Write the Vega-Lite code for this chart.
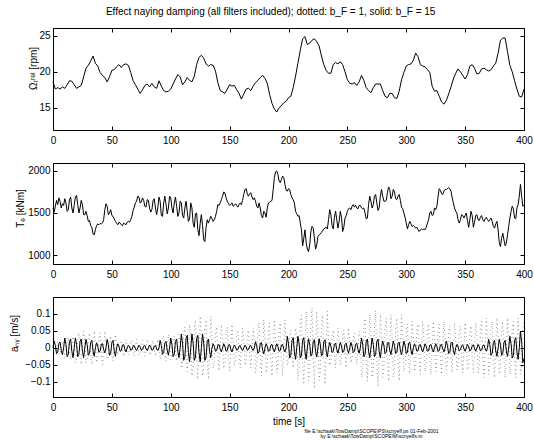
{
"$schema":"https://vega.github.io/schema/vega-lite/v6.json",
"autosize":{"type":"pad"},
"padding":{"left":8,"top":7,"right":5,"bottom":0},
"background":"white",
"title":{"text":"Effect naying damping (all filters included); dotted: b_F = 1, solid: b_F = 15","anchor":"middle","offset":10,"fontSize":10,"font":"Liberation Sans","fontWeight":"normal","color":"black"},
"spacing":33,
"bounds":"flush",
"datasets":{
"om":[
{"t":0,"w":18.6},{"t":2,"w":17.6},{"t":4,"w":17.8},{"t":6,"w":17.6},{"t":8,"w":17.9},{"t":10,"w":17.7},{"t":12,"w":18.2},{"t":14,"w":18.75},{"t":16,"w":18.7},{"t":18,"w":18.2},
{"t":20,"w":17.7},{"t":22,"w":17.9},{"t":24,"w":18.1},{"t":26,"w":19.3},{"t":28,"w":20.5},{"t":30,"w":20.9},{"t":32,"w":21.5},{"t":34,"w":22.2},{"t":36,"w":21.2},{"t":38,"w":20.8},
{"t":40,"w":19.9},{"t":42,"w":19.5},{"t":44,"w":19.2},{"t":46,"w":18.6},{"t":48,"w":19.3},{"t":50,"w":20.2},{"t":52,"w":20.3},{"t":54,"w":20.7},{"t":56,"w":21.0},{"t":58,"w":20.6},
{"t":60,"w":21.0},{"t":62,"w":21.1},{"t":64,"w":20.9},{"t":66,"w":19.9},{"t":68,"w":18.8},{"t":70,"w":18.2},{"t":72,"w":17.6},{"t":74,"w":17.0},{"t":76,"w":17.5},{"t":78,"w":18.1},
{"t":80,"w":18.3},{"t":82,"w":17.9},{"t":84,"w":18.4},{"t":86,"w":17.9},{"t":88,"w":17.7},{"t":90,"w":18.75},{"t":92,"w":18.0},{"t":94,"w":17.4},{"t":96,"w":17.2},{"t":98,"w":17.3},
{"t":100,"w":17.6},{"t":102,"w":18.3},{"t":104,"w":19.0},{"t":106,"w":19.6},{"t":108,"w":19.3},{"t":110,"w":18.2},{"t":112,"w":18.6},{"t":114,"w":19.2},{"t":116,"w":18.8},{"t":118,"w":18.6},
{"t":120,"w":19.4},{"t":122,"w":21.0},{"t":124,"w":22.0},{"t":126,"w":22.3},{"t":128,"w":21.9},{"t":130,"w":21.1},{"t":132,"w":20.8},{"t":134,"w":21.0},{"t":136,"w":20.9},{"t":138,"w":20.1},
{"t":140,"w":18.5},{"t":142,"w":17.4},{"t":144,"w":17.2},{"t":146,"w":17.0},{"t":148,"w":17.6},{"t":150,"w":18.2},{"t":152,"w":18.0},{"t":154,"w":18.1},{"t":156,"w":17.5},{"t":158,"w":17.0},
{"t":160,"w":16.2},{"t":162,"w":16.9},{"t":164,"w":17.6},{"t":166,"w":17.7},{"t":168,"w":17.4},{"t":170,"w":18.0},{"t":172,"w":18.5},{"t":174,"w":18.8},{"t":176,"w":19.2},{"t":178,"w":19.5},
{"t":180,"w":19.1},{"t":182,"w":18.4},{"t":184,"w":16.8},{"t":186,"w":15.6},{"t":188,"w":14.8},{"t":190,"w":14.4},{"t":192,"w":15.0},{"t":194,"w":15.3},{"t":196,"w":15.7},{"t":198,"w":15.9},
{"t":200,"w":16.4},{"t":202,"w":16.6},{"t":204,"w":17.8},{"t":206,"w":19.4},{"t":208,"w":21.2},{"t":210,"w":23.0},{"t":212,"w":24.6},{"t":214,"w":24.9},{"t":216,"w":23.8},{"t":218,"w":24.0},
{"t":220,"w":24.4},{"t":222,"w":24.6},{"t":224,"w":24.2},{"t":226,"w":23.6},{"t":228,"w":22.2},{"t":230,"w":21.0},{"t":232,"w":20.2},{"t":234,"w":19.8},{"t":236,"w":19.8},{"t":238,"w":21.0},
{"t":240,"w":21.3},{"t":242,"w":21.1},{"t":244,"w":21.4},{"t":246,"w":21.0},{"t":248,"w":20.0},{"t":250,"w":18.9},{"t":252,"w":18.4},{"t":254,"w":18.3},{"t":256,"w":18.5},{"t":258,"w":18.1},
{"t":260,"w":18.6},{"t":262,"w":19.5},{"t":264,"w":18.8},{"t":266,"w":17.8},{"t":268,"w":17.4},{"t":270,"w":17.1},{"t":272,"w":17.8},{"t":274,"w":18.3},{"t":276,"w":18.3},{"t":278,"w":18.3},
{"t":280,"w":17.4},{"t":282,"w":16.6},{"t":284,"w":16.4},{"t":286,"w":17.0},{"t":288,"w":17.0},{"t":290,"w":16.4},{"t":292,"w":16.3},{"t":294,"w":17.3},{"t":296,"w":18.9},{"t":298,"w":19.9},
{"t":300,"w":20.8},{"t":302,"w":21.0},{"t":304,"w":21.1},{"t":306,"w":21.6},{"t":308,"w":22.6},{"t":310,"w":22.1},{"t":312,"w":21.0},{"t":314,"w":20.8},{"t":316,"w":20.7},{"t":318,"w":20.3},
{"t":320,"w":19.9},{"t":322,"w":18.0},{"t":324,"w":17.3},{"t":326,"w":17.4},{"t":328,"w":16.6},{"t":330,"w":15.8},{"t":332,"w":15.5},{"t":334,"w":16.0},{"t":336,"w":16.9},{"t":338,"w":17.9},
{"t":340,"w":19.0},{"t":342,"w":19.8},{"t":344,"w":20.4},{"t":346,"w":20.0},{"t":348,"w":19.5},{"t":350,"w":19.0},{"t":352,"w":19.6},{"t":354,"w":20.8},{"t":356,"w":21.0},{"t":358,"w":20.5},
{"t":360,"w":19.7},{"t":362,"w":19.8},{"t":364,"w":20.4},{"t":366,"w":20.5},{"t":368,"w":20.3},{"t":370,"w":20.1},{"t":372,"w":20.3},{"t":374,"w":20.8},{"t":376,"w":21.2},{"t":378,"w":22.6},
{"t":380,"w":24.4},{"t":382,"w":24.7},{"t":384,"w":24.7},{"t":386,"w":22.8},{"t":388,"w":20.9},{"t":390,"w":20.0},{"t":392,"w":18.75},{"t":394,"w":17.6},{"t":396,"w":16.6},{"t":398,"w":16.5},
{"t":400,"w":17.6}
],
"m":[
{"t":0,"T":1560,"s":0,"d":0.007},{"t":1,"T":1510,"s":0.02,"d":-0.017},{"t":2,"T":1580,"s":0.007,"d":-0.013},{"t":3,"T":1650,"s":-0.017,"d":0.013},{"t":4,"T":1600,"s":-0.013,"d":0.017},{"t":5,"T":1680,"s":0.013,"d":-0.007},{"t":6,"T":1640,"s":0.017,"d":-0.02},{"t":7,"T":1560,"s":-0.007,"d":0},{"t":8,"T":1610,"s":-0.02,"d":0.02},
{"t":9,"T":1590,"s":0,"d":0.012},{"t":10,"T":1670,"s":0.029,"d":-0.03},{"t":11,"T":1620,"s":0.01,"d":-0.022},{"t":12,"T":1520,"s":-0.026,"d":0.022},{"t":13,"T":1540,"s":-0.019,"d":0.03},{"t":14,"T":1660,"s":0.019,"d":-0.012},{"t":15,"T":1690,"s":0.026,"d":-0.034},{"t":16,"T":1560,"s":-0.01,"d":0},{"t":17,"T":1500,"s":-0.029,"d":0.034},
{"t":18,"T":1590,"s":0,"d":0.017},{"t":19,"T":1690,"s":0.029,"d":-0.044},{"t":20,"T":1710,"s":0.01,"d":-0.032},{"t":21,"T":1600,"s":-0.026,"d":0.032},{"t":22,"T":1500,"s":-0.019,"d":0.044},{"t":23,"T":1560,"s":0.019,"d":-0.017},{"t":24,"T":1650,"s":0.026,"d":-0.049},{"t":25,"T":1600,"s":-0.01,"d":0},{"t":26,"T":1480,"s":-0.029,"d":0.049},
{"t":27,"T":1480,"s":0,"d":0.017},{"t":28,"T":1520,"s":0.025,"d":-0.044},{"t":29,"T":1470,"s":0.009,"d":-0.032},{"t":30,"T":1400,"s":-0.022,"d":0.032},{"t":31,"T":1410,"s":-0.016,"d":0.044},{"t":32,"T":1350,"s":0.016,"d":-0.017},{"t":33,"T":1330,"s":0.022,"d":-0.049},{"t":34,"T":1250,"s":-0.009,"d":0},{"t":35,"T":1240,"s":-0.025,"d":0.049},
{"t":36,"T":1300,"s":0,"d":0.017},{"t":37,"T":1350,"s":0.015,"d":-0.044},{"t":38,"T":1370,"s":0.005,"d":-0.032},{"t":39,"T":1360,"s":-0.013,"d":0.032},{"t":40,"T":1375,"s":-0.01,"d":0.044},{"t":41,"T":1370,"s":0.01,"d":-0.017},{"t":42,"T":1380,"s":0.013,"d":-0.049},{"t":43,"T":1420,"s":-0.005,"d":0},{"t":44,"T":1540,"s":-0.015,"d":0.049},
{"t":45,"T":1610,"s":0,"d":0.014},{"t":46,"T":1580,"s":0.025,"d":-0.035},{"t":47,"T":1480,"s":0.009,"d":-0.026},{"t":48,"T":1500,"s":-0.022,"d":0.026},{"t":49,"T":1540,"s":-0.016,"d":0.035},{"t":50,"T":1470,"s":0.016,"d":-0.014},{"t":51,"T":1460,"s":0.022,"d":-0.039},{"t":52,"T":1430,"s":-0.009,"d":0},{"t":53,"T":1400,"s":-0.025,"d":0.039},
{"t":54,"T":1380,"s":0,"d":0.009},{"t":55,"T":1360,"s":0.012,"d":-0.022},{"t":56,"T":1390,"s":0.004,"d":-0.016},{"t":57,"T":1380,"s":-0.01,"d":0.016},{"t":58,"T":1360,"s":-0.008,"d":0.022},{"t":59,"T":1350,"s":0.008,"d":-0.009},{"t":60,"T":1380,"s":0.01,"d":-0.025},{"t":61,"T":1370,"s":-0.004,"d":0},{"t":62,"T":1360,"s":-0.012,"d":0.025},
{"t":63,"T":1390,"s":0,"d":0.009},{"t":64,"T":1400,"s":0.008,"d":-0.022},{"t":65,"T":1390,"s":0.003,"d":-0.016},{"t":66,"T":1420,"s":-0.007,"d":0.016},{"t":67,"T":1460,"s":-0.005,"d":0.022},{"t":68,"T":1530,"s":0.005,"d":-0.009},{"t":69,"T":1570,"s":0.007,"d":-0.025},{"t":70,"T":1620,"s":-0.003,"d":0},{"t":71,"T":1640,"s":-0.008,"d":0.025},
{"t":72,"T":1700,"s":0,"d":0.009},{"t":73,"T":1690,"s":0.008,"d":-0.022},{"t":74,"T":1620,"s":0.003,"d":-0.016},{"t":75,"T":1630,"s":-0.007,"d":0.016},{"t":76,"T":1680,"s":-0.005,"d":0.022},{"t":77,"T":1650,"s":0.005,"d":-0.009},{"t":78,"T":1580,"s":0.007,"d":-0.025},{"t":79,"T":1570,"s":-0.003,"d":0},{"t":80,"T":1660,"s":-0.008,"d":0.025},
{"t":81,"T":1650,"s":0,"d":0.009},{"t":82,"T":1560,"s":0.008,"d":-0.022},{"t":83,"T":1510,"s":0.003,"d":-0.016},{"t":84,"T":1540,"s":-0.007,"d":0.016},{"t":85,"T":1650,"s":-0.005,"d":0.022},{"t":86,"T":1670,"s":0.005,"d":-0.009},{"t":87,"T":1560,"s":0.007,"d":-0.025},{"t":88,"T":1480,"s":-0.003,"d":0},{"t":89,"T":1560,"s":-0.008,"d":0.025},
{"t":90,"T":1690,"s":0,"d":0.014},{"t":91,"T":1640,"s":0.022,"d":-0.035},{"t":92,"T":1470,"s":0.007,"d":-0.026},{"t":93,"T":1460,"s":-0.019,"d":0.026},{"t":94,"T":1620,"s":-0.014,"d":0.035},{"t":95,"T":1700,"s":0.014,"d":-0.014},{"t":96,"T":1600,"s":0.019,"d":-0.039},{"t":97,"T":1490,"s":-0.007,"d":0},{"t":98,"T":1560,"s":-0.022,"d":0.039},
{"t":99,"T":1700,"s":0,"d":0.014},{"t":100,"T":1680,"s":0.029,"d":-0.035},{"t":101,"T":1560,"s":0.01,"d":-0.026},{"t":102,"T":1500,"s":-0.026,"d":0.026},{"t":103,"T":1620,"s":-0.019,"d":0.035},{"t":104,"T":1690,"s":0.019,"d":-0.014},{"t":105,"T":1580,"s":0.026,"d":-0.039},{"t":106,"T":1460,"s":-0.01,"d":0},{"t":107,"T":1500,"s":-0.029,"d":0.039},
{"t":108,"T":1640,"s":0,"d":0.024},{"t":109,"T":1620,"s":0.041,"d":-0.061},{"t":110,"T":1470,"s":0.014,"d":-0.045},{"t":111,"T":1440,"s":-0.037,"d":0.045},{"t":112,"T":1560,"s":-0.027,"d":0.061},{"t":113,"T":1640,"s":0.027,"d":-0.024},{"t":114,"T":1520,"s":0.037,"d":-0.069},{"t":115,"T":1400,"s":-0.014,"d":0},{"t":116,"T":1430,"s":-0.041,"d":0.069},
{"t":117,"T":1620,"s":0,"d":0.032},{"t":118,"T":1560,"s":0.041,"d":-0.083},{"t":119,"T":1380,"s":0.014,"d":-0.061},{"t":120,"T":1330,"s":-0.037,"d":0.061},{"t":121,"T":1490,"s":-0.027,"d":0.083},{"t":122,"T":1500,"s":0.027,"d":-0.032},{"t":123,"T":1300,"s":0.037,"d":-0.093},{"t":124,"T":1230,"s":-0.014,"d":0},{"t":125,"T":1380,"s":-0.041,"d":0.093},
{"t":126,"T":1480,"s":0,"d":0.032},{"t":127,"T":1350,"s":0.041,"d":-0.083},{"t":128,"T":1180,"s":0.014,"d":-0.061},{"t":129,"T":1160,"s":-0.037,"d":0.061},{"t":130,"T":1330,"s":-0.027,"d":0.083},{"t":131,"T":1420,"s":0.019,"d":-0.032},{"t":132,"T":1380,"s":0.026,"d":-0.093},{"t":133,"T":1420,"s":-0.01,"d":0},{"t":134,"T":1460,"s":-0.029,"d":0.093},
{"t":135,"T":1430,"s":0,"d":0.024},{"t":136,"T":1400,"s":0.012,"d":-0.061},{"t":137,"T":1420,"s":0.004,"d":-0.045},{"t":138,"T":1460,"s":-0.01,"d":0.045},{"t":139,"T":1520,"s":-0.008,"d":0.061},{"t":140,"T":1600,"s":0.008,"d":-0.024},{"t":141,"T":1590,"s":0.01,"d":-0.069},{"t":142,"T":1620,"s":-0.004,"d":0},{"t":143,"T":1660,"s":-0.012,"d":0.069},
{"t":144,"T":1700,"s":0,"d":0.024},{"t":145,"T":1750,"s":0.012,"d":-0.061},{"t":146,"T":1740,"s":0.004,"d":-0.045},{"t":147,"T":1680,"s":-0.01,"d":0.045},{"t":148,"T":1640,"s":-0.008,"d":0.061},{"t":149,"T":1610,"s":0.008,"d":-0.024},{"t":150,"T":1590,"s":0.01,"d":-0.069},{"t":151,"T":1600,"s":-0.004,"d":0},{"t":152,"T":1620,"s":-0.012,"d":0.069},
{"t":153,"T":1580,"s":0,"d":0.02},{"t":154,"T":1590,"s":0.008,"d":-0.052},{"t":155,"T":1610,"s":0.003,"d":-0.038},{"t":156,"T":1590,"s":-0.007,"d":0.038},{"t":157,"T":1570,"s":-0.005,"d":0.052},{"t":158,"T":1600,"s":0.005,"d":-0.02},{"t":159,"T":1620,"s":0.007,"d":-0.059},{"t":160,"T":1600,"s":-0.003,"d":0},{"t":161,"T":1650,"s":-0.008,"d":0.059},
{"t":162,"T":1720,"s":0,"d":0.02},{"t":163,"T":1780,"s":0.008,"d":-0.052},{"t":164,"T":1790,"s":0.003,"d":-0.038},{"t":165,"T":1730,"s":-0.007,"d":0.038},{"t":166,"T":1700,"s":-0.005,"d":0.052},{"t":167,"T":1730,"s":0.005,"d":-0.02},{"t":168,"T":1740,"s":0.007,"d":-0.059},{"t":169,"T":1690,"s":-0.003,"d":0},{"t":170,"T":1660,"s":-0.008,"d":0.059},
{"t":171,"T":1680,"s":0,"d":0.029},{"t":172,"T":1640,"s":0.018,"d":-0.074},{"t":173,"T":1580,"s":0.006,"d":-0.054},{"t":174,"T":1560,"s":-0.016,"d":0.054},{"t":175,"T":1620,"s":-0.012,"d":0.074},{"t":176,"T":1560,"s":0.012,"d":-0.029},{"t":177,"T":1470,"s":0.016,"d":-0.083},{"t":178,"T":1440,"s":-0.006,"d":0},{"t":179,"T":1520,"s":-0.018,"d":0.083},
{"t":180,"T":1500,"s":0,"d":0.029},{"t":181,"T":1450,"s":0.012,"d":-0.074},{"t":182,"T":1560,"s":0.004,"d":-0.054},{"t":183,"T":1620,"s":-0.01,"d":0.054},{"t":184,"T":1630,"s":-0.008,"d":0.074},{"t":185,"T":1640,"s":0.008,"d":-0.029},{"t":186,"T":1650,"s":0.01,"d":-0.083},{"t":187,"T":1780,"s":-0.004,"d":0},{"t":188,"T":1920,"s":-0.012,"d":0.083},
{"t":189,"T":1990,"s":0,"d":0.029},{"t":190,"T":2000,"s":0.012,"d":-0.074},{"t":191,"T":1960,"s":0.004,"d":-0.054},{"t":192,"T":1880,"s":-0.01,"d":0.054},{"t":193,"T":1860,"s":-0.008,"d":0.074},{"t":194,"T":1900,"s":0.008,"d":-0.029},{"t":195,"T":1940,"s":0.01,"d":-0.083},{"t":196,"T":1920,"s":-0.004,"d":0},{"t":197,"T":1840,"s":-0.012,"d":0.083},
{"t":198,"T":1770,"s":0,"d":0.02},{"t":199,"T":1760,"s":0.034,"d":-0.052},{"t":200,"T":1790,"s":0.012,"d":-0.038},{"t":201,"T":1780,"s":-0.03,"d":0.038},{"t":202,"T":1720,"s":-0.022,"d":0.052},{"t":203,"T":1680,"s":0.022,"d":-0.02},{"t":204,"T":1660,"s":0.03,"d":-0.059},{"t":205,"T":1620,"s":-0.012,"d":0},{"t":206,"T":1520,"s":-0.034,"d":0.059},
{"t":207,"T":1490,"s":0,"d":0.037},{"t":208,"T":1460,"s":0.034,"d":-0.096},{"t":209,"T":1470,"s":0.012,"d":-0.07},{"t":210,"T":1380,"s":-0.03,"d":0.07},{"t":211,"T":1300,"s":-0.022,"d":0.096},{"t":212,"T":1110,"s":0.022,"d":-0.037},{"t":213,"T":1200,"s":0.03,"d":-0.108},{"t":214,"T":1300,"s":-0.012,"d":0},{"t":215,"T":1150,"s":-0.034,"d":0.108},
{"t":216,"T":1070,"s":0,"d":0.037},{"t":217,"T":1040,"s":0.027,"d":-0.096},{"t":218,"T":1120,"s":0.01,"d":-0.07},{"t":219,"T":1280,"s":-0.024,"d":0.07},{"t":220,"T":1340,"s":-0.018,"d":0.118},{"t":221,"T":1320,"s":0.018,"d":-0.037},{"t":222,"T":1200,"s":0.024,"d":-0.12},{"t":223,"T":1070,"s":-0.01,"d":0},{"t":224,"T":1120,"s":-0.027,"d":0.108},
{"t":225,"T":1220,"s":0,"d":0.037},{"t":226,"T":1240,"s":0.027,"d":-0.096},{"t":227,"T":1250,"s":0.01,"d":-0.07},{"t":228,"T":1270,"s":-0.024,"d":0.07},{"t":229,"T":1290,"s":-0.018,"d":0.096},{"t":230,"T":1310,"s":0.018,"d":-0.037},{"t":231,"T":1320,"s":0.024,"d":-0.108},{"t":232,"T":1330,"s":-0.01,"d":0},{"t":233,"T":1310,"s":-0.027,"d":0.108},
{"t":234,"T":1420,"s":0,"d":0.02},{"t":235,"T":1540,"s":0.016,"d":-0.052},{"t":236,"T":1480,"s":0.005,"d":-0.038},{"t":237,"T":1350,"s":-0.014,"d":0.038},{"t":238,"T":1310,"s":-0.01,"d":0.052},{"t":239,"T":1450,"s":0.01,"d":-0.02},{"t":240,"T":1520,"s":0.014,"d":-0.059},{"t":241,"T":1420,"s":-0.005,"d":0},{"t":242,"T":1320,"s":-0.016,"d":0.059},
{"t":243,"T":1400,"s":0,"d":0.02},{"t":244,"T":1520,"s":0.016,"d":-0.052},{"t":245,"T":1450,"s":0.005,"d":-0.038},{"t":246,"T":1280,"s":-0.014,"d":0.038},{"t":247,"T":1330,"s":-0.01,"d":0.052},{"t":248,"T":1440,"s":0.01,"d":-0.02},{"t":249,"T":1470,"s":0.014,"d":-0.059},{"t":250,"T":1520,"s":-0.005,"d":0},{"t":251,"T":1550,"s":-0.016,"d":0.059},
{"t":252,"T":1560,"s":0,"d":0.017},{"t":253,"T":1540,"s":0.016,"d":-0.044},{"t":254,"T":1580,"s":0.005,"d":-0.032},{"t":255,"T":1600,"s":-0.014,"d":0.032},{"t":256,"T":1570,"s":-0.01,"d":0.044},{"t":257,"T":1590,"s":0.01,"d":-0.017},{"t":258,"T":1560,"s":0.014,"d":-0.049},{"t":259,"T":1550,"s":-0.005,"d":0},{"t":260,"T":1590,"s":-0.016,"d":0.049},
{"t":261,"T":1590,"s":0,"d":0.034},{"t":262,"T":1560,"s":0.029,"d":-0.087},{"t":263,"T":1550,"s":0.01,"d":-0.064},{"t":264,"T":1560,"s":-0.026,"d":0.064},{"t":265,"T":1500,"s":-0.019,"d":0.087},{"t":266,"T":1430,"s":0.019,"d":-0.034},{"t":267,"T":1440,"s":0.026,"d":-0.098},{"t":268,"T":1600,"s":-0.01,"d":0},{"t":269,"T":1700,"s":-0.029,"d":0.098},
{"t":270,"T":1640,"s":0,"d":0.034},{"t":271,"T":1560,"s":0.029,"d":-0.087},{"t":272,"T":1600,"s":0.01,"d":-0.064},{"t":273,"T":1700,"s":-0.026,"d":0.064},{"t":274,"T":1720,"s":-0.019,"d":0.11},{"t":275,"T":1620,"s":0.019,"d":-0.034},{"t":276,"T":1530,"s":0.026,"d":-0.115},{"t":277,"T":1560,"s":-0.01,"d":0},{"t":278,"T":1700,"s":-0.029,"d":0.098},
{"t":279,"T":1780,"s":0,"d":0.034},{"t":280,"T":1700,"s":0.02,"d":-0.087},{"t":281,"T":1640,"s":0.007,"d":-0.064},{"t":282,"T":1640,"s":-0.017,"d":0.064},{"t":283,"T":1650,"s":-0.013,"d":0.087},{"t":284,"T":1740,"s":0.013,"d":-0.034},{"t":285,"T":1810,"s":0.017,"d":-0.098},{"t":286,"T":1780,"s":-0.007,"d":0},{"t":287,"T":1670,"s":-0.02,"d":0.098},
{"t":288,"T":1700,"s":0,"d":0.034},{"t":289,"T":1780,"s":0.02,"d":-0.087},{"t":290,"T":1750,"s":0.007,"d":-0.064},{"t":291,"T":1670,"s":-0.017,"d":0.064},{"t":292,"T":1660,"s":-0.013,"d":0.087},{"t":293,"T":1700,"s":0.013,"d":-0.034},{"t":294,"T":1720,"s":0.017,"d":-0.098},{"t":295,"T":1650,"s":-0.007,"d":0},{"t":296,"T":1570,"s":-0.02,"d":0.098},
{"t":297,"T":1550,"s":0,"d":0.027},{"t":298,"T":1500,"s":0.02,"d":-0.07},{"t":299,"T":1450,"s":0.007,"d":-0.051},{"t":300,"T":1380,"s":-0.017,"d":0.051},{"t":301,"T":1310,"s":-0.013,"d":0.07},{"t":302,"T":1360,"s":0.013,"d":-0.027},{"t":303,"T":1400,"s":0.017,"d":-0.078},{"t":304,"T":1370,"s":-0.007,"d":0},{"t":305,"T":1340,"s":-0.02,"d":0.078},
{"t":306,"T":1350,"s":0,"d":0.027},{"t":307,"T":1340,"s":0.012,"d":-0.07},{"t":308,"T":1320,"s":0.004,"d":-0.051},{"t":309,"T":1330,"s":-0.01,"d":0.051},{"t":310,"T":1300,"s":-0.008,"d":0.07},{"t":311,"T":1280,"s":0.008,"d":-0.027},{"t":312,"T":1300,"s":0.01,"d":-0.078},{"t":313,"T":1310,"s":-0.004,"d":0},{"t":314,"T":1300,"s":-0.012,"d":0.078},
{"t":315,"T":1310,"s":0,"d":0.027},{"t":316,"T":1300,"s":0.012,"d":-0.07},{"t":317,"T":1330,"s":0.004,"d":-0.051},{"t":318,"T":1380,"s":-0.01,"d":0.051},{"t":319,"T":1420,"s":-0.008,"d":0.07},{"t":320,"T":1500,"s":0.008,"d":-0.027},{"t":321,"T":1520,"s":0.01,"d":-0.078},{"t":322,"T":1470,"s":-0.004,"d":0},{"t":323,"T":1480,"s":-0.012,"d":0.078},
{"t":324,"T":1560,"s":0,"d":0.027},{"t":325,"T":1540,"s":0.012,"d":-0.07},{"t":326,"T":1580,"s":0.004,"d":-0.051},{"t":327,"T":1690,"s":-0.01,"d":0.051},{"t":328,"T":1790,"s":-0.008,"d":0.07},{"t":329,"T":1770,"s":0.008,"d":-0.027},{"t":330,"T":1730,"s":0.01,"d":-0.078},{"t":331,"T":1720,"s":-0.004,"d":0},{"t":332,"T":1760,"s":-0.012,"d":0.078},
{"t":333,"T":1780,"s":0,"d":0.026},{"t":334,"T":1780,"s":0.02,"d":-0.065},{"t":335,"T":1790,"s":0.007,"d":-0.048},{"t":336,"T":1800,"s":-0.017,"d":0.048},{"t":337,"T":1790,"s":-0.013,"d":0.065},{"t":338,"T":1760,"s":0.013,"d":-0.026},{"t":339,"T":1680,"s":0.017,"d":-0.074},{"t":340,"T":1620,"s":-0.007,"d":0},{"t":341,"T":1560,"s":-0.02,"d":0.074},
{"t":342,"T":1520,"s":0,"d":0.026},{"t":343,"T":1500,"s":0.01,"d":-0.065},{"t":344,"T":1420,"s":0.003,"d":-0.048},{"t":345,"T":1380,"s":-0.009,"d":0.048},{"t":346,"T":1420,"s":-0.006,"d":0.065},{"t":347,"T":1480,"s":0.006,"d":-0.026},{"t":348,"T":1470,"s":0.009,"d":-0.074},{"t":349,"T":1440,"s":-0.003,"d":0},{"t":350,"T":1470,"s":-0.01,"d":0.074},
{"t":351,"T":1500,"s":0,"d":0.026},{"t":352,"T":1410,"s":0.01,"d":-0.065},{"t":353,"T":1330,"s":0.003,"d":-0.048},{"t":354,"T":1420,"s":-0.009,"d":0.048},{"t":355,"T":1520,"s":-0.006,"d":0.065},{"t":356,"T":1470,"s":0.006,"d":-0.026},{"t":357,"T":1330,"s":0.009,"d":-0.074},{"t":358,"T":1390,"s":-0.003,"d":0},{"t":359,"T":1470,"s":-0.01,"d":0.074},
{"t":360,"T":1480,"s":0,"d":0.031},{"t":361,"T":1420,"s":0.01,"d":-0.078},{"t":362,"T":1410,"s":0.003,"d":-0.058},{"t":363,"T":1450,"s":-0.009,"d":0.058},{"t":364,"T":1470,"s":-0.006,"d":0.078},{"t":365,"T":1420,"s":0.006,"d":-0.031},{"t":366,"T":1400,"s":0.009,"d":-0.088},{"t":367,"T":1430,"s":-0.003,"d":0},{"t":368,"T":1450,"s":-0.01,"d":0.088},
{"t":369,"T":1420,"s":0,"d":0.031},{"t":370,"T":1400,"s":0.025,"d":-0.078},{"t":371,"T":1420,"s":0.009,"d":-0.058},{"t":372,"T":1440,"s":-0.022,"d":0.058},{"t":373,"T":1400,"s":-0.016,"d":0.078},{"t":374,"T":1340,"s":0.016,"d":-0.031},{"t":375,"T":1320,"s":0.022,"d":-0.088},{"t":376,"T":1370,"s":-0.009,"d":0},{"t":377,"T":1400,"s":-0.025,"d":0.088},
{"t":378,"T":1300,"s":0,"d":0.031},{"t":379,"T":1150,"s":0.025,"d":-0.078},{"t":380,"T":1100,"s":0.009,"d":-0.058},{"t":381,"T":1200,"s":-0.022,"d":0.058},{"t":382,"T":1260,"s":-0.016,"d":0.078},{"t":383,"T":1180,"s":0.016,"d":-0.031},{"t":384,"T":1110,"s":0.022,"d":-0.088},{"t":385,"T":1140,"s":-0.009,"d":0},{"t":386,"T":1240,"s":-0.025,"d":0.088},
{"t":387,"T":1340,"s":0,"d":0.031},{"t":388,"T":1440,"s":0.034,"d":-0.078},{"t":389,"T":1520,"s":0.012,"d":-0.058},{"t":390,"T":1580,"s":-0.03,"d":0.058},{"t":391,"T":1550,"s":-0.022,"d":0.078},{"t":392,"T":1440,"s":0.022,"d":-0.031},{"t":393,"T":1430,"s":0.03,"d":-0.088},{"t":394,"T":1560,"s":-0.012,"d":0},{"t":395,"T":1600,"s":-0.034,"d":0.088},
{"t":396,"T":1700,"s":0,"d":0.031},{"t":397,"T":1840,"s":0.049,"d":-0.078},{"t":398,"T":1700,"s":0.017,"d":-0.058},{"t":399,"T":1580,"s":-0.044,"d":0.058},{"t":400,"T":1600,"s":-0.032,"d":0.078}
]
},
"vconcat":[
{
"width":471,"height":102,
"data":{"name":"om"},
"layer":[
{"mark":{"type":"line","color":"black","strokeWidth":1},
"encoding":{
"x":{"field":"t","type":"quantitative","scale":{"domain":[0,400],"nice":false},"axis":{"values":[0,50,100,150,200,250,300,350,400],"title":null}},
"y":{"field":"w","type":"quantitative","scale":{"domain":[11.9,26.1],"nice":false,"zero":false},"axis":{"values":[15,20,25],"title":"Ωᵣʳᵉˡ [rpm]","titleX":-15,"titleY":40,"titleAnchor":"middle","titleAlign":"center"}}}},
{"mark":{"type":"line","strokeOpacity":0},
"encoding":{
"x":{"field":"t","type":"quantitative","scale":{"domain":[0,400],"nice":false},"axis":{"orient":"top","values":[0,50,100,150,200,250,300,350,400],"labels":false,"title":null}},
"y":{"field":"w","type":"quantitative","scale":{"domain":[11.9,26.1],"nice":false,"zero":false},"axis":{"orient":"right","values":[15,20,25],"labels":false,"title":null}}}}
],
"resolve":{"axis":{"x":"independent","y":"independent"}}
},
{
"width":471,"height":101,
"data":{"name":"m"},
"layer":[
{"mark":{"type":"line","color":"black","strokeWidth":1},
"encoding":{
"x":{"field":"t","type":"quantitative","scale":{"domain":[0,400],"nice":false},"axis":{"values":[0,50,100,150,200,250,300,350,400],"title":null}},
"y":{"field":"T","type":"quantitative","scale":{"domain":[893,2095],"nice":false,"zero":false},"axis":{"values":[1000,1500,2000],"format":"d","title":"Tₑ [kNm]","titleX":-28,"titleY":45,"titleAlign":"center"}}}},
{"mark":{"type":"line","strokeOpacity":0},
"encoding":{
"x":{"field":"t","type":"quantitative","scale":{"domain":[0,400],"nice":false},"axis":{"orient":"top","values":[0,50,100,150,200,250,300,350,400],"labels":false,"title":null}},
"y":{"field":"T","type":"quantitative","scale":{"domain":[893,2095],"nice":false,"zero":false},"axis":{"orient":"right","values":[1000,1500,2000],"labels":false,"title":null}}}}
],
"resolve":{"axis":{"x":"independent","y":"independent"}}
},
{
"width":471,"height":100,
"data":{"name":"m"},
"title":{"text":"file E:\\schaak\\TowDamp\\SCOPE\\PS\\scnyeff.ps  01-Feb-2001","subtitle":"by E:\\schaak\\TowDamp\\SCOPE\\M\\scnyeffs.m","orient":"bottom","anchor":"middle","dx":83,"fontSize":5,"subtitleFontSize":5,"font":"Liberation Sans","subtitleFont":"Liberation Sans","fontWeight":"normal","color":"black","subtitleColor":"black","offset":3,"subtitlePadding":0},
"layer":[
{"mark":{"type":"line","color":"#333333","strokeWidth":0.7,"strokeDash":[0.7,3.3]},
"encoding":{
"x":{"field":"t","type":"quantitative","scale":{"domain":[0,400],"nice":false},"axis":null},
"y":{"field":"d","type":"quantitative","scale":{"domain":[-0.145,0.15],"nice":false,"zero":false},"axis":null}}},
{"mark":{"type":"line","color":"black","strokeWidth":1},
"encoding":{
"x":{"field":"t","type":"quantitative","scale":{"domain":[0,400],"nice":false},"axis":{"values":[0,50,100,150,200,250,300,350,400],"title":"time [s]","titlePadding":4}},
"y":{"field":"s","type":"quantitative","scale":{"domain":[-0.145,0.15],"nice":false,"zero":false},"axis":{"values":[-0.1,-0.05,0,0.05,0.1],"format":"~g","title":"aₙᵧ [m/s]","titleX":-34,"titleY":36,"titleAlign":"center"}}}},
{"mark":{"type":"line","strokeOpacity":0},
"encoding":{
"x":{"field":"t","type":"quantitative","scale":{"domain":[0,400],"nice":false},"axis":{"orient":"top","values":[0,50,100,150,200,250,300,350,400],"labels":false,"title":null}},
"y":{"field":"s","type":"quantitative","scale":{"domain":[-0.145,0.15],"nice":false,"zero":false},"axis":{"orient":"right","values":[-0.1,-0.05,0,0.05,0.1],"labels":false,"title":null}}}}
],
"resolve":{"axis":{"x":"independent","y":"independent"}}
}
],
"config":{
"view":{"stroke":"black","strokeWidth":1},
"axis":{"grid":false,"domain":false,"tickColor":"black","tickSize":-4,"tickWidth":1,"labelFont":"Liberation Sans","labelFontSize":10,"labelColor":"black","labelFlush":false,"labelOverlap":false,"titleFont":"Liberation Sans","titleFontSize":10,"titleFontWeight":"normal","titleColor":"black","titlePadding":2},
"axisX":{"labelPadding":9},
"axisY":{"labelPadding":7}
}
}
